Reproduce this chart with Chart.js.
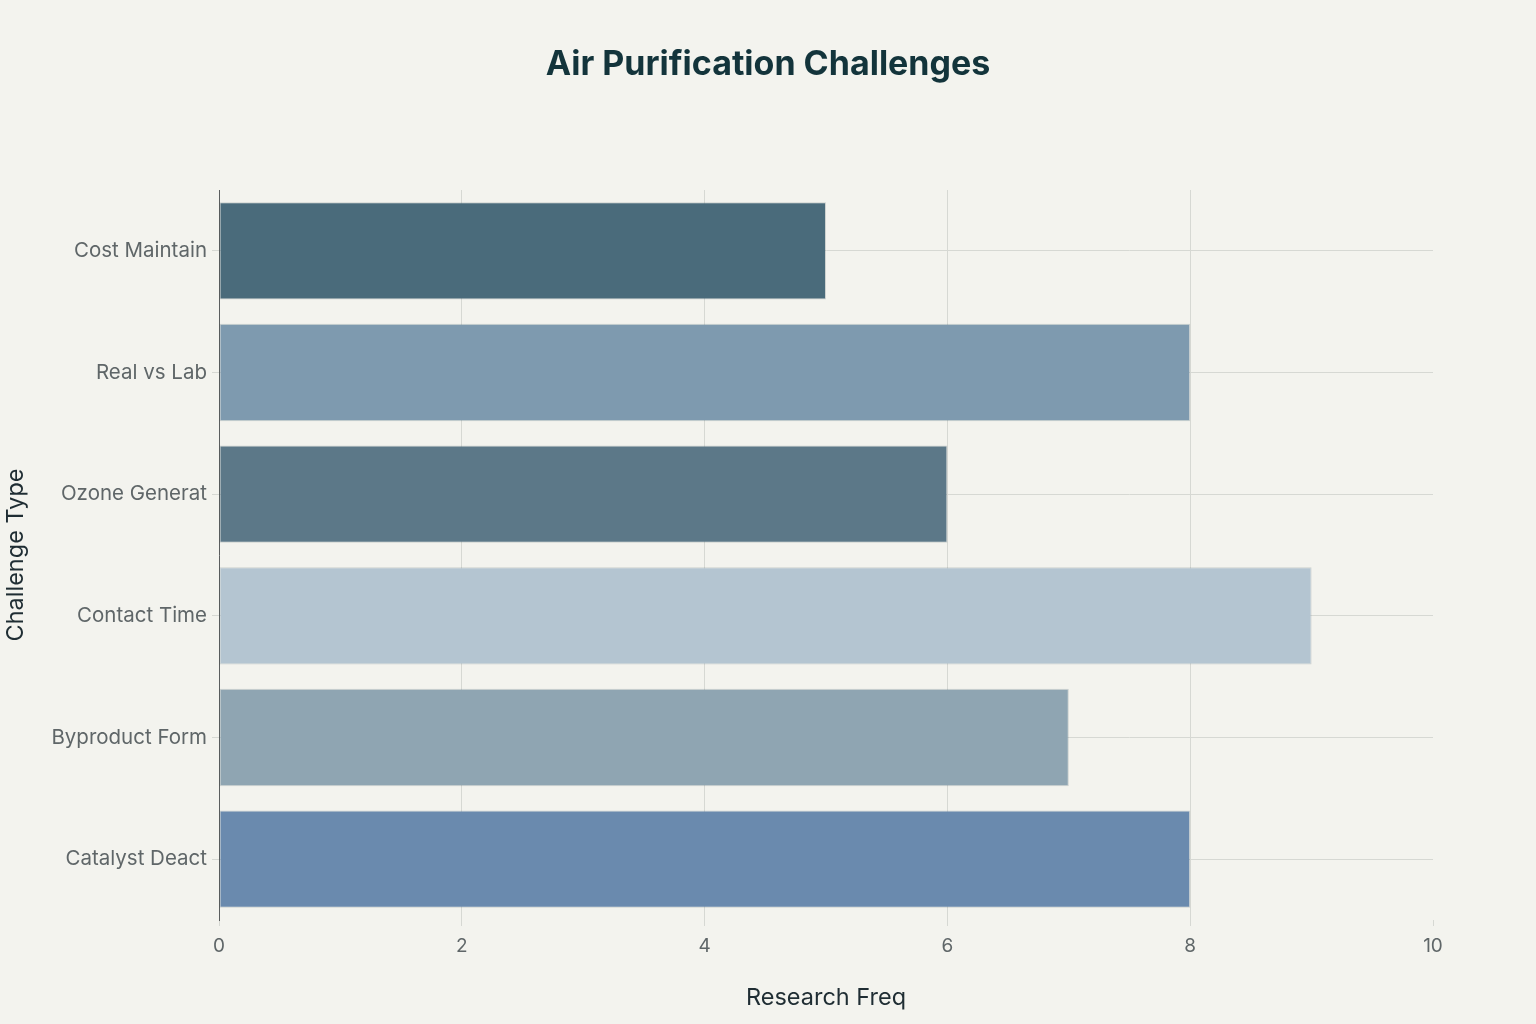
<!DOCTYPE html>
<html>
<head>
<meta charset="utf-8">
<script src="https://cdn.jsdelivr.net/npm/chart.js@4/dist/chart.umd.min.js"></script>
<style>
  html, body { margin: 0; padding: 0; background: #f3f3ee; }
  #wrap { width: 1536px; height: 1024px; }
</style>
</head>
<body>
<div id="wrap"><canvas id="myChart" width="1536" height="1024"></canvas></div>
<script>
// chart data
let challenges = ['Cost Maintain', 'Real vs Lab', 'Ozone Generat', 'Contact Time', 'Byproduct Form', 'Catalyst Deact'];
let research_freq = [5, 8, 6, 9, 7, 8];
let bar_colours = ['#4a6b7b', '#7e9aaf', '#5c7888', '#b4c5d1', '#8fa5b2', '#6a8aae'];
let x_ticks = [0, 2, 4, 6, 8, 10];

let font_family = 'Inter, "Open Sans", sans-serif';
let grid_colour = '#d6d8d3';

let ctx = document.getElementById('myChart').getContext('2d');
let mychart = new Chart(ctx, {
  type: 'bar',
  data: {
    labels: challenges,
    datasets: [
      {
        label: 'Research Freq',
        data: research_freq,
        backgroundColor: bar_colours,
        borderColor: 'rgba(40,60,70,0.18)',
        borderWidth: 1,
        borderSkipped: false,
        barPercentage: 0.8,
        categoryPercentage: 1.0
      }
    ]
  },
  options: {
    indexAxis: 'y',
    responsive: false,
    animation: false,
    devicePixelRatio: 1,
    layout: { padding: 0 },
    plugins: {
      legend: { display: false },
      tooltip: { enabled: false },
      title: {
        display: true,
        text: 'Air Purification Challenges',
        color: '#13343b',
        font: { family: font_family, size: 34, weight: 'bold' },
        padding: { top: 44.6, bottom: 104.6 }
      }
    },
    scales: {
      x: {
        min: 0,
        max: 10,
        afterBuildTicks: function (scale) {
          scale.ticks = x_ticks.map(function (v) { return { value: v }; });
        },
        afterFit: function (scale) { scale.height = 104; },
        grid: {
          color: function (c) { return c.tick && c.tick.value === 10 ? 'rgba(0,0,0,0)' : grid_colour; },
          lineWidth: 1, tickLength: 6, tickColor: grid_colour
        },
        border: { display: false },
        ticks: { color: '#5f6668', padding: 8.6, font: { family: font_family, size: 19 } },
        title: {
          display: true,
          text: 'Research Freq',
          color: '#1f2d33',
          font: { family: font_family, size: 23.5 },
          padding: { top: 0, bottom: 12 }
        }
      },
      y: {
        afterFit: function (scale) { scale.width = 219; },
        grid: { offset: false, color: grid_colour, lineWidth: 1, tickLength: 7, tickColor: grid_colour },
        border: { display: true, color: '#5a5d5e', width: 1 },
        ticks: { color: '#5f6668', padding: 5, font: { family: font_family, size: 20.5 } },
        title: {
          display: true,
          text: 'Challenge Type',
          color: '#1f2d33',
          font: { family: font_family, size: 23.5 },
          padding: { top: 2, bottom: 0 }
        }
      },
      // empty right-hand axis, only to keep the plot ending at x = 1433
      yRight: {
        position: 'right',
        afterFit: function (scale) { scale.width = 103; },
        grid: { display: false },
        border: { display: false },
        ticks: { display: false }
      }
    }
  }
});
</script>
</body>
</html>
